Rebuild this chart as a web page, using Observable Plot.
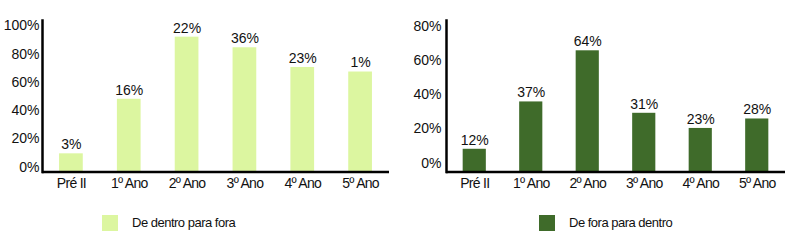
<!DOCTYPE html>
<html><head><meta charset="utf-8">
<script src="https://cdn.jsdelivr.net/npm/d3@7"></script>
<script src="https://cdn.jsdelivr.net/npm/@observablehq/plot@0.6"></script>
<style>
body{margin:0;background:#fff;}
#wrap{display:flex;width:799px;}
.panel{position:relative;}
.overlay{position:absolute;left:0;top:0;pointer-events:none;}
.lg-swatch > svg{margin-right:14px !important;}
.lg-swatch{letter-spacing:-0.5px;}
g[aria-label="x-axis tick label"] text{letter-spacing:-0.7px;}
</style></head><body><div id="wrap"></div>
<script>
const categories = ["Pré II","1º Ano","2º Ano","3º Ano","4º Ano","5º Ano"];
const dentroValues = [12,48,89,82,69,66];
const dentroLabels = ["3%","16%","22%","36%","23%","1%"];
const foraValues = [12,37,64,31,23,28];
const foraLabels = ["12%","37%","64%","31%","23%","28%"];
const dentroTicks = [0,20,40,60,80,100];
const foraTicks = [0,20,40,60,80];
const seriesNames = ["De dentro para fora","De fora para dentro"];
const seriesColors = ["#dcf6a0","#3f6b2a"];

const REG = "'Liberation Sans',Arial,sans-serif";

function panel(o){
  const rows = categories.map((c,i)=>({cat:c, value:o.values[i], label:o.labels[i]}));
  const div = document.createElement("div");
  div.className = "panel";
  div.style.width = o.width + "px";
  const main = Plot.plot({
    width:o.width, height:200,
    marginLeft:o.ml, marginRight:o.mr, marginTop:20, marginBottom:28.5,
    style:{fontFamily:REG, fontSize:"14px", color:"#111", background:"white"},
    x:{domain:categories, paddingInner:0.59, paddingOuter:0.295, round:false, label:null},
    y:{domain:[0,o.yMax], axis:null},
    marks:[
      Plot.barY(rows,{x:"cat", y:"value", fill:o.color}),
      Plot.frame({anchor:"left", stroke:"#000", strokeWidth:2.5}),
      Plot.ruleY([0],{stroke:"#000", strokeWidth:2.5}),
      Plot.text(rows,{x:"cat", y:"value", text:"label", dy:-9, fontSize:14, fontFamily:REG, fill:"#111"}),
      Plot.axisX({tickSize:0, tickPadding:6, label:null, fill:"#111", fontSize:14})
    ]
  });
  div.appendChild(main);
  const ov = Plot.plot({
    width:o.width, height:200,
    marginLeft:o.ml, marginRight:o.mr, marginTop:20, marginBottom:28.5,
    style:{fontFamily:REG, fontSize:"14px", background:"transparent"},
    x:{axis:null},
    y:{domain:[0,o.yMax], range:o.tickRange},
    marks:[
      Plot.axisY(o.ticks,{tickSize:0, tickPadding:o.tp, tickFormat:d=>d+"%", label:null, fill:"#111", fontSize:14})
    ]
  });
  ov.classList.add("overlay");
  div.appendChild(ov);
  const lg = Plot.legend({
    color:{domain:[o.name], range:[o.color]},
    legend:"swatches", swatchSize:16, className:"lg",
    style:{fontFamily:REG, fontSize:"13px", marginLeft:o.lgLeft+"px", marginTop:"6px", color:"#111"}
  });
  div.appendChild(lg);
  return div;
}

const wrap = document.getElementById("wrap");
wrap.appendChild(panel({width:400, ml:42, mr:11, yMax:100, values:dentroValues, labels:dentroLabels,
  color:seriesColors[0], ticks:dentroTicks, tickRange:[166.7,25.3], tp:3, name:seriesNames[0], lgLeft:102}));
wrap.appendChild(panel({width:399, ml:46, mr:14, yMax:80, values:foraValues, labels:foraLabels,
  color:seriesColors[1], ticks:foraTicks, tickRange:[162.7,25.7], tp:5, name:seriesNames[1], lgLeft:139}));
</script></body></html>
